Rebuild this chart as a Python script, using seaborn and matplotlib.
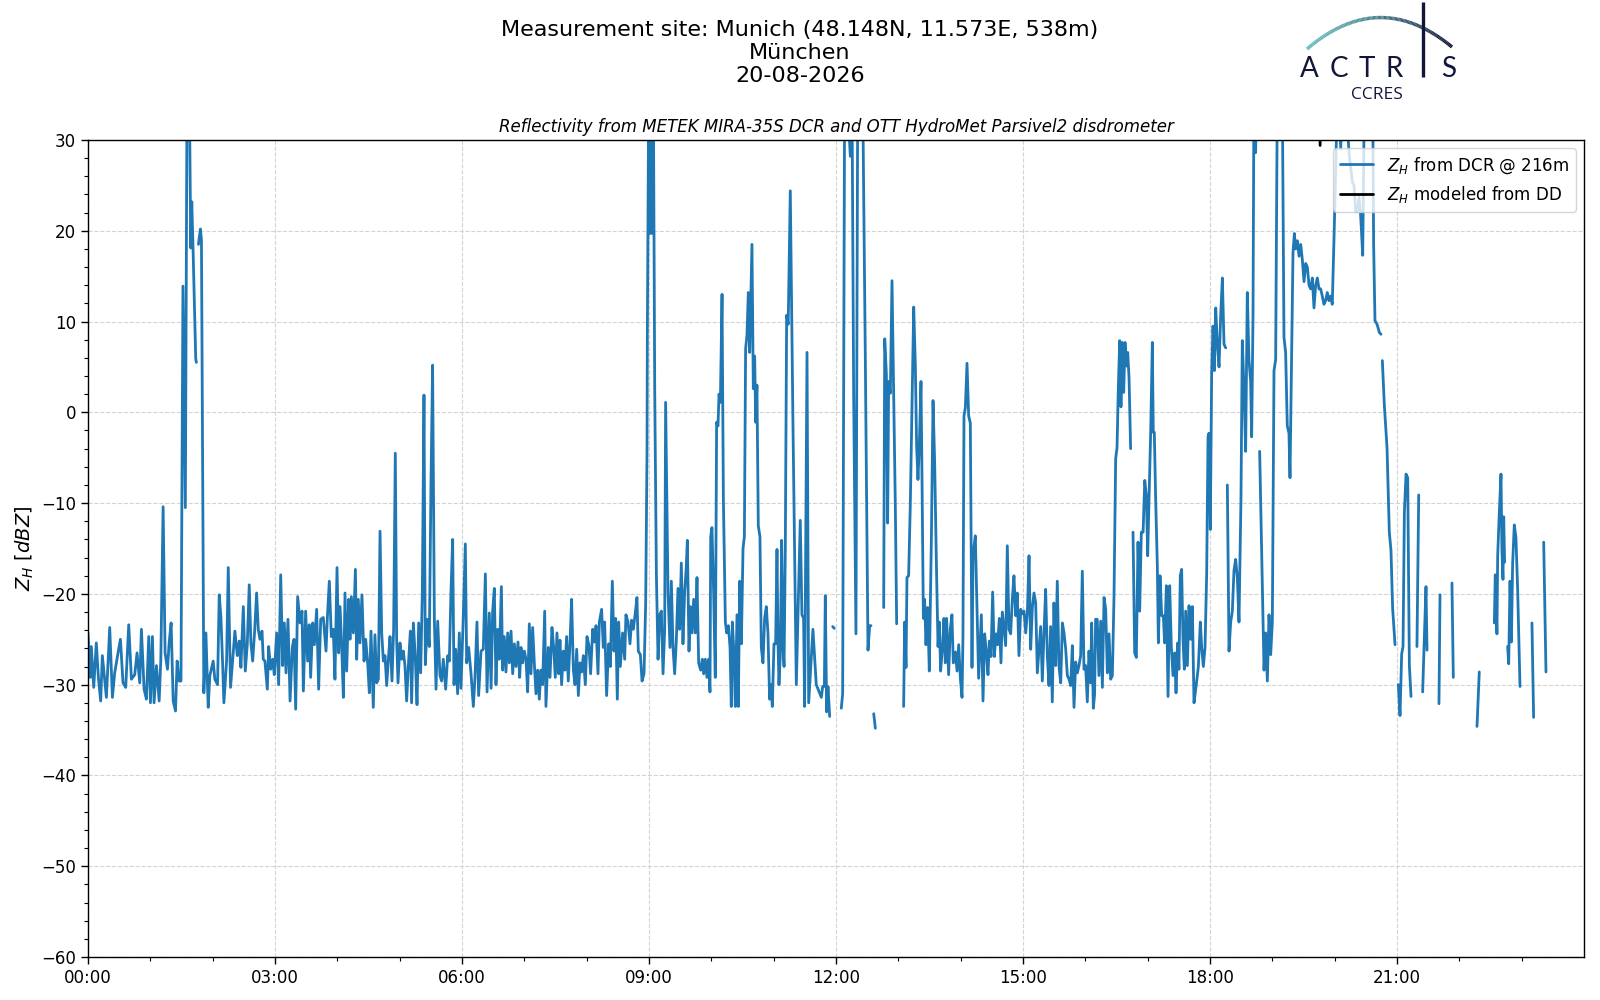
import numpy as np
import pandas as pd
import matplotlib
matplotlib.use("Agg")
import matplotlib.pyplot as plt
import seaborn as sns
from matplotlib.lines import Line2D
from matplotlib.ticker import MultipleLocator, FixedLocator, FuncFormatter
from matplotlib.collections import LineCollection

NaN = float("nan")

# (minutes after 00:00 UTC, Z_H in dBZ); NaN = data gap; 35 = off-scale (clipped at top)
zh_00_03 = [
    (0, -24.3), (2.2, -29.2), (3.2, -25.8), (5.5, -30.3), (8, -25.4), (10, -29.2), (12.2, -31.8),
    (13.8, -26.8), (17.7, -31.4), (20.9, -23.7), (23.5, -31.4), (25.7, -28.7), (28.9, -26.5),
    (31.2, -25), (33.7, -29.8), (36.3, -30.3), (39.2, -23.4), (41.8, -29.4), (45, -28.9),
    (47.2, -26.5), (49.8, -29.8), (51.4, -23.9), (54, -30.5), (56.2, -31.6), (58.5, -24.7),
    (60.1, -32), (62, -24.7), (63.6, -32), (65.9, -27.9), (68.5, -31.8), (70.1, -27.2),
    (72.3, -10.4), (74.2, -26.5), (76.5, -28.3), (78.1, -25.4), (80, -23.2), (82, -31.8),
    (84.2, -32.9), (85.8, -27.4), (87.7, -29.6), (89.5, -29.6), (91.4, 13.9), (93.7, -10.5),
    (95.3, 35), (97.6, 35), (98.9, 18.1), (99.9, 23.2), (101.1, 18.1), (103.7, 5.9), (104.3, 5.5),
    (105, NaN), (106.3, 18.5), (108.2, 20.2), (109.2, 19), (111.5, -30.9), (113.5, -24.3),
    (115.7, -32.5), (117.3, -29), (120.5, -27.4), (122.1, -29.4), (124.7, -30), (126.3, -20.1),
    (127.9, -22.5), (129.5, -27.4), (130.8, -32), (133.4, -27.4), (135, -17.1), (137.2, -30.3),
    (139.8, -26.5), (141.4, -24.1), (143.7, -26.8), (145.6, -25.2), (147.2, -28.1), (149.5, -21.4),
    (151.4, -28.5), (153.3, -25.6), (155.2, -19), (156.8, -25.4), (158.5, -27.4), (160.4, -24.1),
    (162.3, -19.9), (163.9, -23.9), (165.5, -25), (167.5, -24.1), (168.7, -27.2), (170.3, -27.4),
    (172.6, -30.5), (173.9, -25.8), (175.8, -28.3), (177.7, -27.2), (179.3, -28.9),
]

zh_03_06 = [
    (181.6, -24.3), (183.5, -30), (185.5, -17.9), (187.4, -27.9), (189, -23.2), (190.6, -28.7),
    (192.5, -22.8), (194.5, -31.8), (196.7, -25.8), (198.3, -25), (199.9, -32.7), (201.8, -20.3),
    (204.1, -23.2), (206, -21.9), (207.3, -30.7), (209.5, -21.9), (211.4, -27.4), (213, -23.4),
    (214.3, -29.2), (216.3, -23.2), (217.9, -25.6), (220.1, -21.7), (222, -30.5), (224, -22.8),
    (226.5, -22.6), (229.1, -26.3), (230.4, -22.6), (232.3, -18.6), (234.2, -24.7), (236.1, -23.9),
    (237.7, -29.4), (239.7, -17.1), (241.3, -26.5), (242.6, -21.4), (244.2, -25.8), (245.8, -31.4),
    (247.4, -19.9), (249, -28.5), (250.9, -20.6), (252.2, -25), (253.5, -20.3), (255.4, -24.3),
    (257.4, -17.3), (258.6, -27.2), (260.2, -20.6), (261.8, -25.4), (263.7, -20.1), (265.7, -27.4),
    (267.3, -25), (269.2, -27.6), (270.8, -30.9), (272.4, -24.1), (274.6, -32.5), (276.2, -24.5),
    (277.9, -29.8), (279.5, -29.4), (281.1, -13.1), (282.7, -24.3), (284.3, -27.4), (285.9, -26.8),
    (287.5, -30.1), (289.1, -27.2), (290.7, -24.7), (292.6, -29.6), (294.2, -23.9), (295.8, -4.5),
    (297.1, -25), (298.4, -29.8), (300.3, -25.4), (301.9, -27.2), (303.5, -26.3), (305.1, -27.9),
    (306.7, -31.8), (308.7, -27.2), (310.3, -24.1), (311.5, -32), (313.2, -23.2), (315.1, -27.2),
    (316.7, -32.2), (318.3, -23.2), (320.2, -28.7), (321.8, -19.9), (323.4, 1.9), (324.7, -27.8),
    (326.6, -22.8), (328.5, -25.8), (330.1, -8.2), (331.7, 5.2), (333.4, -22.8), (335, -30.5),
    (336.6, -23), (338.8, -29), (340.4, -29.6), (342, -27.2), (344.3, -30.5), (346.2, -26.8),
    (347.8, -27.4), (349.4, -19.7), (351, -14), (352.3, -30), (353.9, -26.1), (355.8, -31),
    (357.4, -24.3), (359, -30.4),
]

zh_06_09 = [
    (361.3, -22.3), (363.2, -14.5), (364.5, -27.6), (366.4, -25.9), (368.7, -28.8), (370.9, -32.4),
    (372.5, -29.2), (374.4, -23.1), (376, -31.2), (378.3, -26.3), (380.5, -26.1), (382.5, -17.8),
    (384.1, -30.8), (386.3, -22.1), (388, -30.4), (389.5, -21.9), (391.1, -19.4), (392.7, -30),
    (394.3, -23.9), (395.9, -27.2), (397.9, -19.2), (399.1, -28.4), (400.7, -24.7), (402.3, -28.6),
    (404, -24.3), (405.6, -27.6), (407.2, -24.1), (408.8, -28.8), (410.4, -25.5), (412, -28),
    (413.9, -25.3), (415.5, -29.2), (416.8, -25.9), (418.4, -27.6), (420, -26.3), (421.6, -27.2),
    (423.2, -30.8), (424.8, -23.3), (426.4, -28.8), (428, -23.7), (429.6, -27.6), (431.2, -31),
    (432.8, -28.4), (434.4, -31.6), (436, -28.4), (437.6, -30), (439.6, -21.9), (440.8, -32.4),
    (443.1, -25.9), (444.7, -29.2), (446.6, -23.7), (448.2, -25.9), (449.8, -29.2), (451.4, -24.3),
    (453, -28.8), (454.3, -25.1), (455.9, -30), (457.5, -26.3), (459.1, -28.4), (460.7, -24.7),
    (462.3, -29.6), (463.9, -25.5), (465.5, -20.6), (467.2, -28.4), (468.8, -30), (470.4, -26.1),
    (472, -31.2), (473.6, -27.6), (475.2, -28.6), (476.8, -26.8), (478.7, -30), (480.3, -24.7),
    (482.2, -25.7), (483.8, -28.8), (485.8, -23.9), (487.4, -25.3), (489, -23.5), (490.9, -28.8),
    (492.2, -23.1), (494.4, -21.7), (496, -25.9), (497.3, -23.1), (499.2, -31.2), (501.2, -25.5),
    (502.8, -28), (504.7, -18.6), (506.3, -26.3), (507.9, -22.7), (509.5, -31.6), (510.8, -23.1),
    (512.4, -28), (514.6, -24.3), (516.6, -27.2), (517.8, -22.3), (519.8, -23.1), (521.7, -25.5),
    (523.3, -22.9), (524.9, -23.9), (526.8, -22.1), (528.4, -20.4), (529.7, -26.3), (531.7, -26.7),
    (533.3, -29.6), (535.2, -28.8), (536.8, -21), (538.1, -4.3), (538.4, 8.3), (539.7, 35),
    (541, 19.7), (542.2, 35), (543.2, 19.7), (544.2, 35),
]

zh_09_12 = [
    (545.5, 2.6), (547.1, -17.8), (548.7, -27.2), (550.3, -22.3), (551.9, -21.9), (553.5, -28.8),
    (555.1, -23.9), (556, 1.1), (558.3, -19.8), (560.2, -25.9), (561.5, -18.6), (563.1, -25.9),
    (564.7, -28.8), (566.3, -25.1), (567.9, -19.4), (569.5, -23.9), (571.1, -16.6), (572.7, -25.5),
    (574.3, -19.8), (575.9, -17), (576.9, -14.1), (578.5, -26.3), (579.8, -21.4), (581.4, -24.3),
    (583, -20.6), (584.6, -24.3), (586.2, -18.2), (587.8, -27.6), (589.7, -28.4), (591.3, -27.2),
    (592.6, -28.8), (594.2, -27.2), (595.8, -29.2), (597.4, -27.2), (598.7, -30.8), (599.4, -13.7),
    (600.6, -12.7), (602.2, -19.8), (603.8, -29.2), (605.1, -1.1), (606.4, -1.5), (607.4, 2),
    (608.7, 1.1), (610.3, 13), (611.6, -9.6), (613.5, -23.1), (614.8, -24.3), (616.4, -23.5),
    (618, -25.9), (619.2, -32.4), (620.2, -23.1), (621.5, -25.9), (623.1, -32.4), (624.7, -22.3),
    (626, -32.4), (627.3, -18.6), (628.9, -25.5), (630.5, -15), (631.8, -13.7), (633, 7),
    (634.3, 8.5), (635.6, 13.2), (636.9, 6.6), (638.2, 13.6), (639.1, 18.5), (640.4, 2.6),
    (641.7, 6.2), (642.7, -1.1), (643.9, 3), (645.2, -12.5), (646.8, -13.7), (648.1, -25.9),
    (649.7, -27.6), (651.3, -22.7), (652.9, -21.4), (654.5, -24.3), (656.1, -31.6), (657.4, -30),
    (658.7, -32.4), (660.3, -25.5), (661.9, -25.5), (663.2, -15.1), (664.2, -25.5), (665.1, -30),
    (666.4, -26.7), (667.7, -14.1), (669, -25.9), (670, -28), (671.2, -15), (672.5, 10.7),
    (674, 9.7), (676, 24.4), (678.6, -1.5), (681.8, -30), (685.6, -11.9), (687.2, -22.3),
    (688.8, -22.7), (689.8, -32.4), (692.1, 6.6), (693.7, -32), (697.8, -23.9), (701, -30),
    (705.9, -31.4), (707.2, -30.2), (708.8, -30.2), (709.7, -20.2), (711, -33), (712.3, -30.2),
    (713.9, -33.5), (715, NaN), (716.8, -23.6), (718.4, -23.8), (720, NaN),
]

zh_12_15 = [
    (725.1, -32.6), (726.4, -31), (728.3, 35), (730.6, 35), (733.8, 28.2), (735.4, 35), (737, 1.9),
    (739.2, -24.4), (740.9, 35), (743.4, 35), (745.7, 35), (748.2, 6.3), (750.8, -26.2),
    (752.4, -23.5), (753.7, -23.5), (755, NaN), (756.3, -33.2), (757.9, -34.8),
    (762, NaN), (765.9, -21.5), (766.9, 8.1), (768.5, 4.2), (769.7, -12.2), (770.7, 3.4),
    (772.3, 2.1), (773.9, 14.5), (775.5, 2.1), (777.1, -10.3), (778.4, -23.3), (780, NaN),
    (785.1, -32.4), (786.1, -23.1), (787.4, -28.1), (788.3, -18.2), (789.9, -18), (791.5, -10.3),
    (793.1, 0), (794.8, 11.6), (796.4, 5), (797.6, -3.7), (798.9, -7.4), (800.2, -3.7),
    (801.8, 3.4), (802.8, -7.4), (804.1, -22.7), (805.3, -20.6), (806.6, -25.6), (808.2, -21.5),
    (809.8, -28.5), (811.8, -14), (813.4, 1.3), (815, -5.7), (816.6, -16.5), (818.2, -25.8),
    (819.5, -23.1), (820.7, -28.5), (822.7, -25.6), (823.9, -22.7), (825.2, -27.6), (826.5, -22.7),
    (828.4, -28.9), (830, -23.9), (831.6, -22.3), (832.9, -27.6), (834.9, -26.4), (836.5, -28.5),
    (838.1, -25.6), (839.7, -29.3), (841.3, -31.4), (842.2, -24.8), (843.2, -0.4), (844.5, 0.5),
    (846.1, 5.4), (847.7, -0.4), (849.3, -1.2), (850.9, -28.1), (851.9, -15.7), (854.1, -13.6),
    (857.3, -29.3), (859.9, -22.3), (861.5, -31.8), (863.1, -24.4), (864.7, -26.4), (866.3, -28.9),
    (867.6, -25.2), (869.2, -26.9), (870.8, -19.8), (872.4, -26.9), (874, -24.4), (875.6, -25.6),
    (877.2, -22.7), (878.8, -27.6), (880.1, -22), (883.3, -25.7), (884.9, -14.7), (886.5, -23.9),
    (888.1, -24.4), (889.7, -20.6), (891.3, -18), (892.9, -22.4), (894.5, -19.9), (896.1, -26.8),
    (897.8, -21.7), (899.4, -22.2),
]

zh_15_18 = [
    (901, -21.9), (902.6, -24.3), (904.2, -22.1), (905.8, -15.8), (907.4, -26.1), (909, -21.5),
    (910.6, -19.9), (912.2, -21), (913.8, -28.7), (915.4, -26.1), (917, -23.6), (918.6, -29.6),
    (920.2, -24.3), (921.8, -19.5), (923.4, -26.8), (925, -30.1), (926.6, -23.6), (928.2, -31.9),
    (929.8, -21), (931.4, -27.9), (933, -18.6), (934.6, -27.9), (936.3, -29.8), (937.9, -23.2),
    (939.5, -24.3), (941.1, -26.1), (942.7, -29), (944.3, -29.4), (945.9, -30.1), (947.5, -25.7),
    (949.1, -32.5), (950.7, -27.5), (952.3, -28.7), (953.9, -27.9), (955.5, -26.8), (957.1, -17.5),
    (958.7, -28.3), (960.3, -27.9), (961.9, -31.9), (963.5, -26.3), (965.1, -29.8), (966.1, -23.2),
    (967.7, -32.6), (968.9, -31.1), (969.9, -22.8), (971.5, -22.8), (973.1, -29), (974.8, -23),
    (976.4, -30.3), (978, -20.4), (979.6, -21.7), (981.2, -28.7), (982.8, -24.4), (984.4, -29.4),
    (986, -29), (987.6, -20.3), (989.2, -5.1), (990.5, -3.9), (991.8, 2.9), (993.1, 7.9),
    (994.3, 0.6), (995.6, 7.7), (996.9, 2.2), (998.2, 7.7), (999.5, 5.1), (1000.8, 6.6),
    (1002.1, 3.7), (1003.6, -4), (1004.5, NaN), (1005.9, -13.2), (1007.5, -26.5), (1009.1, -27),
    (1010.7, -14.3), (1012.3, -21.9), (1013.9, -13.2), (1015.6, -13.2), (1017.2, -7.5),
    (1018.8, -9.2), (1020, -15.8), (1021.3, -9.6), (1022.9, -2.2), (1024.5, 7.7), (1025.4, -2.2),
    (1026.4, -2.2), (1027.7, -9.6), (1029.3, -16.9), (1030.3, -25.4), (1031.9, -18), (1033.5, -22.4),
    (1035.1, -22.4), (1036.3, -25.4), (1038, -19.1), (1039.6, -31.3), (1041.2, -19.1),
    (1042.8, -25.9), (1044.4, -29), (1046, -26.5), (1047.3, -30.9), (1048.9, -25.4), (1050.1, -28.3),
    (1051.4, -18), (1052.7, -17.3), (1054, -25), (1055.3, -28.3), (1056.6, -21.9), (1058.2, -27.9),
    (1059.8, -21.3), (1061.4, -25), (1063, -21.4), (1064.6, -32), (1066.8, -30), (1068.8, -28),
    (1070.7, -23.1), (1072, -25.9), (1073.6, -28), (1075.2, -25.9), (1076.8, -17.8), (1078.1, -2.7),
    (1079, -2.3),
]

zh_18_21 = [
    (1080.3, -12.9), (1081.6, 4.2), (1082.9, 9.5), (1084.2, 4.6), (1085.5, 11.5), (1087.1, 7.5),
    (1088.7, 5), (1090.3, 10.7), (1091.9, 14.8), (1093.5, 7.5), (1095.1, 7.1), (1096, NaN),
    (1096.7, -8), (1098.3, -26.3), (1099.9, -23.1), (1101.5, -21.9), (1103.1, -17.4), (1104.7, -16.2),
    (1106.3, -18.2), (1107.9, -23.1), (1109.8, -9.6), (1111.1, 7.9), (1112.7, 2.6), (1114.3, -4.3),
    (1115.9, 13.2), (1117.5, 5.8), (1119.1, 3.4), (1120.1, -2.7), (1121.4, 10.7), (1122.3, 35),
    (1123.9, 28.6), (1124.9, 35), (1126, NaN), (1127.8, -4.3), (1132, -28.4), (1133.6, -24.3),
    (1135.2, -29.6), (1136.8, -22.3), (1138.4, -26.7), (1140, -23.1), (1141.6, 4.6), (1143.2, 5.8),
    (1144.8, 35), (1146.4, 35), (1148, 35), (1149.6, 35), (1151.2, 8.3), (1152.8, 6.6),
    (1154.4, -1.5), (1156, -2.3), (1157, -7.2), (1158.6, 6.6), (1159.9, 17.6), (1161.2, 19.7),
    (1162.5, 18), (1164.1, 18.9), (1165.7, 17.2), (1167.3, 18.5), (1168.9, 16.8), (1170.5, 14.4),
    (1172.1, 16.4), (1173.7, 16), (1175.3, 14), (1176.9, 13.6), (1178.5, 14.8), (1180.1, 11.5),
    (1181.7, 14), (1183.3, 14.8), (1184.9, 13.6), (1186.5, 13.6), (1188.1, 12.8), (1189.7, 11.9),
    (1191.3, 12.3), (1192.9, 13.2), (1194.5, 12.3), (1196.1, 12.8), (1197.7, 11.9), (1199.3, 18.9),
    (1200.9, 26.2), (1202.6, 35), (1204.2, 35), (1205.8, 29), (1207.4, 35), (1210.6, 35),
    (1213.8, 28.6), (1217, 25.4), (1218.6, 25), (1220.2, 22.1), (1221.8, 22.1), (1223.4, 23.7),
    (1225, 21.7), (1227, 17.3), (1228.6, 35), (1232, 35), (1236.6, 35), (1237.5, 18.5),
    (1238.8, 10.1), (1240.8, 9.7), (1243, 8.8), (1244.6, 8.6), (1245.2, NaN), (1245.9, 5.7),
    (1247.8, 0.8), (1250.4, -3.9), (1252.6, -13.2), (1254.2, -15.2), (1255.8, -21.6), (1258.1, -25.6),
    (1259, NaN),
]

zh_21_24 = [
    (1261.3, -30), (1262.9, -33.4), (1264.5, -26.6), (1265.8, -25.8), (1267.1, -11), (1268.7, -6.8),
    (1270.3, -7.2), (1271.9, -27.9), (1273.5, -31.3), (1275, NaN), (1279.2, -25.8), (1280.9, -9.1),
    (1282, NaN), (1284.7, -30.8), (1286.3, -24.9), (1287.9, -19.2), (1288.9, -26.2), (1290, NaN),
    (1300.4, -32.1), (1301.4, -20.1), (1302, NaN), (1312.9, -18.8), (1314.2, -29.2), (1315, NaN),
    (1337, -34.6), (1339.2, -28.6), (1340, NaN), (1353.7, -23.2), (1354.6, -17.9), (1356.2, -24.4),
    (1356.9, -15.8), (1358.5, -11), (1360.1, -6.8), (1361, -15.2), (1362, -18.4), (1362.7, -11.5),
    (1363.6, -16.5), (1365, NaN), (1366.5, -25.8), (1367.5, -27.7), (1368.8, -18.6), (1370.1, -25.3),
    (1371.3, -16.7), (1372.9, -12.4), (1374.5, -13.8), (1376.1, -19.4), (1378.4, -30.2),
    (1380, NaN), (1389.9, -23.2), (1391.5, -33.6), (1393, NaN), (1401.2, -14.3), (1403.4, -28.6),
]

# Z_H modeled from the disdrometer (only a tiny visible piece at the top edge)
zh_dd = [(1185.7, 34.0), (1186.0, 29.4)]

# x tick labels
tick_hours = [0, 3, 6, 9, 12, 15, 18, 21]
tick_labels = ["00:00", "03:00", "06:00", "09:00", "12:00", "15:00", "18:00", "21:00"]

blocks = [zh_00_03, zh_03_06, zh_06_09, zh_09_12, zh_12_15, zh_15_18, zh_18_21, zh_21_24]
rows = []
seg = 0
for block in blocks:
    for t, z in block:
        if np.isnan(z):
            seg += 1
            continue
        rows.append((t / 60.0, z, seg))
df = pd.DataFrame(rows, columns=["hour", "zh", "seg"])
df_dd = pd.DataFrame([(t / 60.0, z) for t, z in zh_dd], columns=["hour", "zh"])

sns.set_theme(style="ticks")
plt.rcParams["font.family"] = ["DejaVu Sans"]
plt.rcParams["axes.edgecolor"] = "black"
plt.rcParams["xtick.color"] = "black"
plt.rcParams["ytick.color"] = "black"
plt.rcParams["text.color"] = "black"
plt.rcParams["axes.labelcolor"] = "black"

fig = plt.figure(figsize=(16, 10), dpi=100)
fig.patch.set_facecolor("white")
ax = fig.add_axes([0.055, 0.043, 0.935, 0.817])

blue = "#1f77b4"
sns.lineplot(data=df, x="hour", y="zh", units="seg", estimator=None, sort=False,
             color=blue, lw=2, ax=ax, legend=False)
sns.lineplot(data=df_dd, x="hour", y="zh", estimator=None, sort=False,
             color="black", lw=2, ax=ax, legend=False)

ax.set_xlim(0, 24)
ax.set_ylim(-60, 30)
ax.xaxis.set_major_locator(FixedLocator(tick_hours))
ax.set_xticklabels(tick_labels)
ax.xaxis.set_minor_locator(FixedLocator(list(range(1, 24))))
ax.yaxis.set_major_locator(MultipleLocator(10))
ax.yaxis.set_minor_locator(MultipleLocator(2))
ax.grid(True, which="major", ls="--", color="#d3d3d3", lw=0.8)
ax.tick_params(axis="both", which="major", labelsize=12, length=5, width=1)
ax.tick_params(axis="both", which="minor", length=3, width=0.8)
for s in ax.spines.values():
    s.set_visible(True)
    s.set_color("black")
    s.set_linewidth(1)
ax.set_xlabel("")
ax.set_ylabel(r"$Z_H$ $[dBZ]$", fontsize=14)

handles = [Line2D([0], [0], color=blue, lw=2), Line2D([0], [0], color="black", lw=2)]
labels = [r"$Z_H$ from DCR @ 216m", r"$Z_H$ modeled from DD"]
leg = ax.legend(handles, labels, loc="upper right", fontsize=12, frameon=True,
                framealpha=0.8, edgecolor="#cccccc", borderaxespad=0.5)

# Titles
fig.text(0.5, 1 - 0.036, "Measurement site: Munich (48.148N, 11.573E, 538m)",
         ha="center", va="baseline", fontsize=16)
fig.text(0.5, 1 - 0.059, "München", ha="center", va="baseline", fontsize=16)
fig.text(0.5, 1 - 0.082, "20-08-2026", ha="center", va="baseline", fontsize=16)
fig.text(0.5225, 1 - 0.1317,
         "Reflectivity from METEK MIRA-35S DCR and OTT HydroMet Parsivel2 disdrometer",
         ha="center", va="baseline", fontsize=12, style="italic")

# ACTRIS CCRES logo (decoration, in figure pixel coordinates)
lax = fig.add_axes([0, 0, 1, 1], zorder=-1)
lax.set_xlim(0, 1600)
lax.set_ylim(1000, 0)
lax.axis("off")
lax.patch.set_alpha(0)
px = np.array([1307, 1372, 1452])
py = np.array([49, 18, 47])
coef = np.polyfit(px, py, 2)
xs = np.linspace(1307, 1452, 120)
ys = np.polyval(coef, xs)
pts = np.column_stack([xs, ys]).reshape(-1, 1, 2)
segs = np.concatenate([pts[:-1], pts[1:]], axis=1)
c0 = np.array([0.40, 0.74, 0.74])
c1 = np.array([0.07, 0.08, 0.22])
fr = np.linspace(0, 1, len(segs))[:, None] ** 1.3
cols = c0 * (1 - fr) + c1 * fr
lax.add_collection(LineCollection(segs, colors=cols, linewidths=2.5))
navy = "#12163a"
lax.plot([1423, 1423], [2, 77], color=navy, lw=2.4, solid_capstyle="butt")
for ch, x in zip(["A", "C", "T", "R", "S"], [1309, 1339, 1367, 1394, 1449]):
    lax.text(x, 77, ch, ha="center", va="baseline", fontsize=20, color=navy, family="Lato")
lax.text(1377, 99, "CCRES", ha="center", va="baseline", fontsize=12.5, color=navy, family="Open Sans")

fig.savefig("out.png", dpi=100, facecolor="white")
